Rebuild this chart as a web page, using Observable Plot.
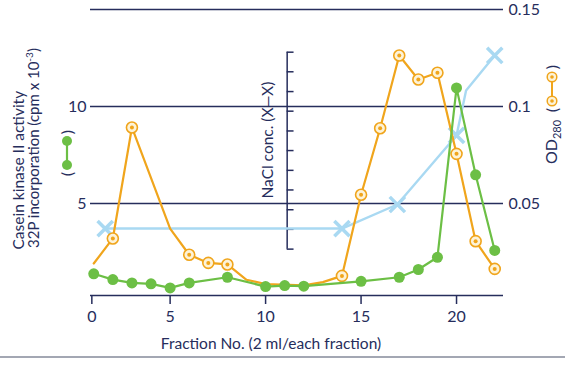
<!DOCTYPE html>
<html>
<head>
<meta charset="utf-8">
<script src="https://cdn.jsdelivr.net/npm/d3@7"></script>
<script src="https://cdn.jsdelivr.net/npm/@observablehq/plot@0.6"></script>
<style>
  html, body { margin: 0; padding: 0; background: #fff; }
  #chart { width: 565px; height: 366px; }
</style>
</head>
<body>
<div id="chart"></div>
<script>
// ---- data ----
const kinaseFraction = [1, 2, 3, 4, 5, 6, 8, 10, 11, 12, 15, 17, 18, 19, 20, 21, 22];
const kinaseActivity = [1.38, 1.08, 0.91, 0.86, 0.65, 0.91, 1.20, 0.72, 0.77, 0.74, 0.99, 1.20, 1.60, 2.23, 10.96, 6.48, 2.58];

const odFraction = [1, 2, 3, 5, 6, 7, 8, 9, 10, 12, 13, 14, 15, 16, 17, 18, 19, 20, 21, 22];
const od280 = [0.0191, 0.0320, 0.0892, 0.0371, 0.0236, 0.0194, 0.0186, 0.0107, 0.0085, 0.0078, 0.0095, 0.0127, 0.0545, 0.0888, 0.1263, 0.1139, 0.1174, 0.0756, 0.0306, 0.0163];
const odMarked = [false, true, true, false, true, true, true, false, false, false, false, true, true, true, true, true, true, true, true, true];

const naclFraction = [1.6, 14, 16.9, 20, 20.5, 22];
const naclLevel = [3.71, 3.71, 4.95, 8.51, 10.82, 12.63];
const naclMarked = [true, true, true, true, false, true];
const naclAxisFraction = 11.13;
const naclTickLen = 0.36;
const naclTicks = [2.65, 3.67, 4.68, 5.7, 6.71, 7.73, 8.74, 9.76, 10.77, 11.79, 12.8];

const leftTicks = [5, 10];
const rightTicks = [0.05, 0.1, 0.15];
const gridValues = [5, 10, 15];
const xTicks = [0.9, 5, 10, 15, 20];
const xTickLabels = ["0", "5", "10", "15", "20"];
const xDomain = [0.83, 22.46];
const yDomain = [0.26, 15];

// ---- tables ----
const kinase = kinaseFraction.map((f, i) => ({f, v: kinaseActivity[i]}));
const od = odFraction.map((f, i) => ({f, v: od280[i] * 100, m: odMarked[i]}));
const nacl = naclFraction.map((f, i) => ({f, v: naclLevel[i], m: naclMarked[i]}));

const navy = "#262d5c";
const orange = "#f0a51c";
const green = "#6cbf45";
const blue = "#a9d9f2";
const font = "Lato, 'Open Sans', sans-serif";

const plot = Plot.plot({
  width: 565,
  height: 366,
  marginLeft: 90,
  marginRight: 62,
  marginTop: 9,
  marginBottom: 71,
  style: {fontFamily: font, fontSize: "16px", color: navy, background: "#fff", overflow: "visible"},
  x: {domain: xDomain},
  y: {domain: yDomain},
  marks: [
    Plot.ruleY(gridValues, {stroke: navy, strokeWidth: 1.5}),
    Plot.ruleY([yDomain[0]], {stroke: navy, strokeWidth: 1.5}),
    Plot.axisX({ticks: xTicks, tickFormat: d => xTickLabels[xTicks.indexOf(d)], tickSize: 9, tickPadding: 6, label: null, stroke: navy, strokeWidth: 1.5, fill: navy, fontSize: 16}),
    Plot.axisY({ticks: leftTicks, tickSize: 0, tickPadding: 4, label: null, fill: navy, fontSize: 16}),
    Plot.axisY({anchor: "right", ticks: rightTicks.map(d => d * 100), tickFormat: d => String(rightTicks[gridValues.indexOf(d)]), tickSize: 0, tickPadding: 5, label: null, fill: navy, fontSize: 16}),
    // NaCl axis
    Plot.ruleX([naclAxisFraction], {y1: naclTicks[0], y2: naclTicks[naclTicks.length - 1], stroke: navy, strokeWidth: 1.5}),
    Plot.ruleY(naclTicks, {x1: naclAxisFraction, x2: naclAxisFraction + naclTickLen, stroke: navy, strokeWidth: 1.5}),
    // NaCl series
    Plot.line(nacl, {x: "f", y: "v", stroke: blue, strokeWidth: 2.4}),
    Plot.dot(nacl.filter(d => d.m), {x: "f", y: "v", symbol: "times", r: 7, stroke: blue, strokeWidth: 3.5}),
    // OD280 series
    Plot.line(od, {x: "f", y: "v", stroke: orange, strokeWidth: 2.2}),
    Plot.dot(od.filter(d => d.m), {x: "f", y: "v", r: 5.5, stroke: orange, strokeWidth: 1.6, fill: "#fdf3d8"}),
    Plot.dot(od.filter(d => d.m), {x: "f", y: "v", r: 2, fill: orange}),
    // Kinase series
    Plot.line(kinase, {x: "f", y: "v", stroke: green, strokeWidth: 2.2}),
    Plot.dot(kinase, {x: "f", y: "v", r: 5.5, fill: green}),
    // titles
    Plot.text(["Fraction No. (2 ml/each fraction)"], {frameAnchor: "bottom", text: d => d, dx: -26, dy: 53, fill: navy, fontSize: 15.5}),
    Plot.text(["Casein kinase II activity"], {frameAnchor: "left", text: d => d, rotate: -90, textAnchor: "start", dx: -71, dy: 97, fill: navy, fontSize: 15.5}),
    Plot.text(["NaCl conc. (X\u2014X)"], {frameAnchor: "left", text: d => d, rotate: -90, textAnchor: "start", dx: 178, dy: 46, fill: navy, fontSize: 15.5})
  ]
});

const svg = d3.select(plot);
// second line of the left title, with superscript
const t2 = svg.append("text").attr("transform", "translate(39,248) rotate(-90)")
  .attr("text-anchor", "start").attr("fill", navy).attr("font-family", font).attr("font-size", 15);
t2.append("tspan").text("32P incorporation (cpm x 10");
t2.append("tspan").attr("font-size", 10).attr("dy", -6).text("-3");
t2.append("tspan").attr("dy", 6).text(")");
// right title OD280 with subscript
const t3 = svg.append("text").attr("transform", "translate(557,164) rotate(-90)")
  .attr("text-anchor", "start").attr("fill", navy).attr("font-family", font).attr("font-size", 16);
t3.append("tspan").text("OD");
t3.append("tspan").attr("font-size", 11).attr("dy", 3.5).text("280");
// green legend (rotated)
const gl = svg.append("g").attr("transform", "translate(67,153) rotate(-90)");
gl.append("text").attr("x", -21).attr("y", 5.5).attr("text-anchor", "middle").attr("fill", navy).attr("font-family", font).attr("font-size", 16).text("(");
gl.append("text").attr("x", 21).attr("y", 5.5).attr("text-anchor", "middle").attr("fill", navy).attr("font-family", font).attr("font-size", 16).text(")");
gl.append("line").attr("x1", -12).attr("x2", 12).attr("y1", 0).attr("y2", 0).attr("stroke", green).attr("stroke-width", 2.2);
gl.append("circle").attr("cx", -12).attr("cy", 0).attr("r", 5).attr("fill", green);
gl.append("circle").attr("cx", 12).attr("cy", 0).attr("r", 5).attr("fill", green);
// orange legend (rotated)
const ol = svg.append("g").attr("transform", "translate(552,89) rotate(-90)");
ol.append("text").attr("x", -21).attr("y", 5.5).attr("text-anchor", "middle").attr("fill", navy).attr("font-family", font).attr("font-size", 16).text("(");
ol.append("text").attr("x", 22).attr("y", 5.5).attr("text-anchor", "middle").attr("fill", navy).attr("font-family", font).attr("font-size", 16).text(")");
ol.append("line").attr("x1", -12).attr("x2", 12).attr("y1", 0).attr("y2", 0).attr("stroke", orange).attr("stroke-width", 2);
[-12, 12].forEach(c => {
  ol.append("circle").attr("cx", c).attr("cy", 0).attr("r", 4.8).attr("fill", "#fdf3d8").attr("stroke", orange).attr("stroke-width", 1.5);
  ol.append("circle").attr("cx", c).attr("cy", 0).attr("r", 1.8).attr("fill", orange);
});
// bottom separator
svg.append("rect").attr("x", 0).attr("y", 356).attr("width", 565).attr("height", 2).attr("fill", "#a3a7b3");

document.getElementById("chart").appendChild(plot);
</script>
</body>
</html>
